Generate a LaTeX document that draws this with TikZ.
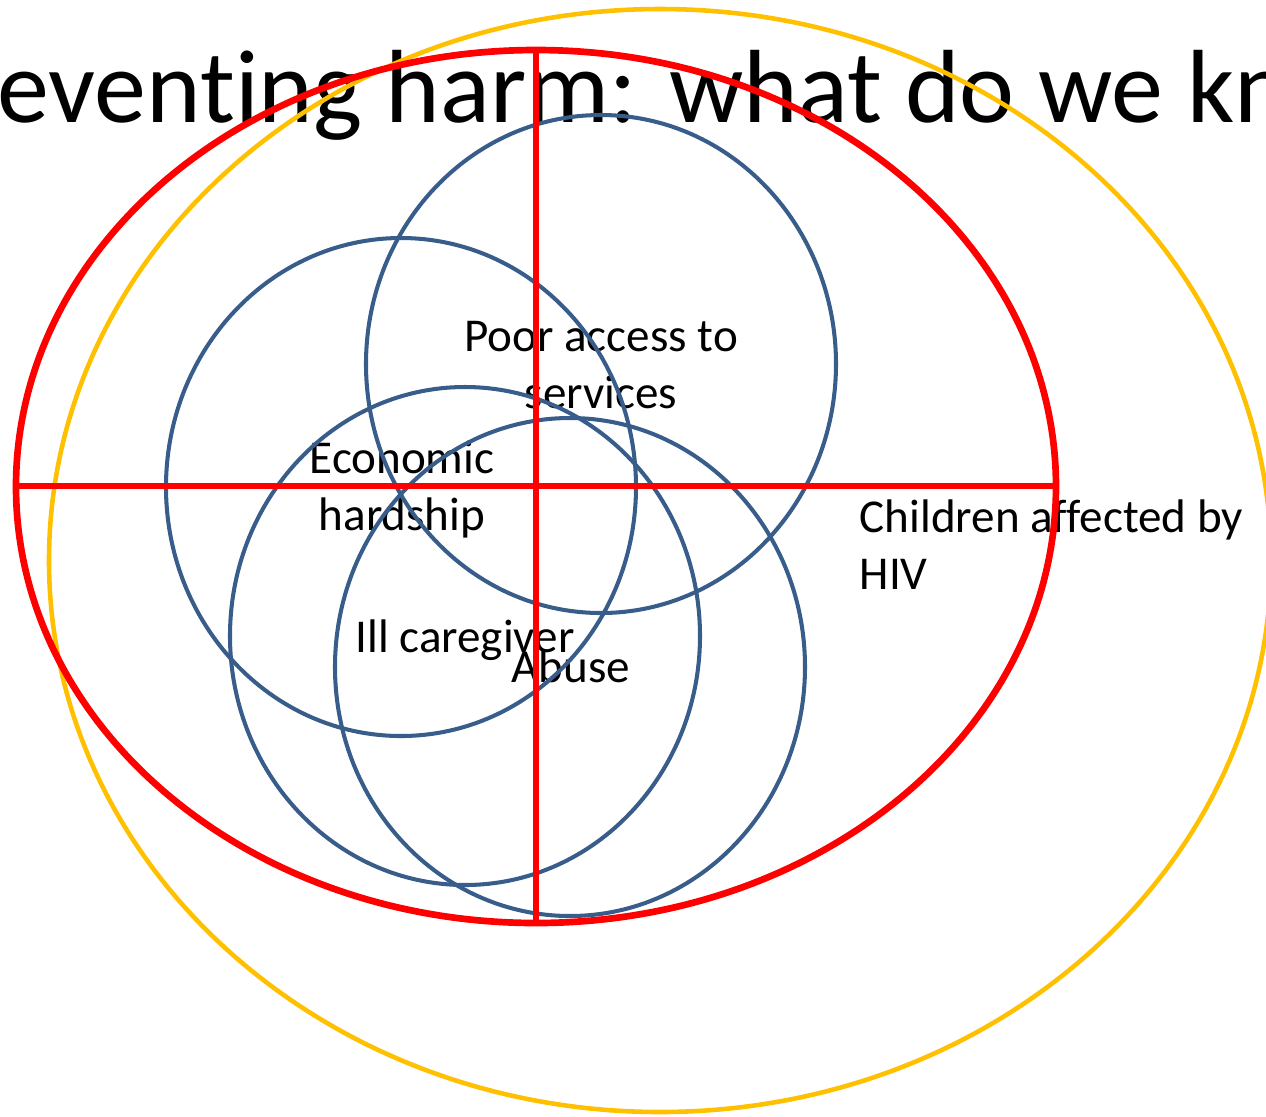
\documentclass[tikz,border=0pt]{standalone}
\usepackage{fontspec}
\setmainfont{Carlito}[Ligatures=NoCommon]
\definecolor{hivred}{HTML}{FF0000}
\definecolor{hivgold}{HTML}{FFC000}
\definecolor{hivblue}{HTML}{385D8A}
\tikzset{
  label text/.style={inner sep=0pt, font=\fontsize{13.4pt}{16.2pt}\selectfont},
  risk loop/.style={draw=hivblue, line width=1.15pt},
  red frame/.style={draw=hivred, line width=1.9pt}
}
\begin{document}
\begin{tikzpicture}
\useasboundingbox (0,0) rectangle (12.66,-11.16);
\clip (0,0) rectangle (12.66,-11.16);
\node[anchor=base west, inner sep=0pt, font=\fontsize{29.6pt}{36pt}\selectfont] (title) at (-0.92,-1.22) {Preventing harm: what do we know?};
\node[label text, align=center, anchor=base] (access) at (6.01,-4.08) {Poor access to\\services};
\node[label text, align=center, anchor=base] (economic) at (4.02,-5.30) {Economic\\hardship};
\node[label text, anchor=base] (carer) at (4.65,-6.52) {Ill caregiver};
\node[label text, anchor=base] (abuse) at (5.71,-6.82) {Abuse};
\node[label text, align=left, anchor=base west] (children) at (8.59,-5.89) {Children affected by\\HIV};
\draw[hivgold, line width=1.3pt] (6.60,-5.605) ellipse[x radius=6.11, y radius=5.515];
\foreach \cx/\cy in {6.01/-3.64, 4.01/-4.87, 4.65/-6.36, 5.70/-6.67}
\draw[risk loop] (\cx,\cy) ellipse[x radius=2.35, y radius=2.49];
\draw[red frame] (5.36,-4.865) ellipse[x radius=5.20, y radius=4.365];
\coordinate (top) at (5.36,-0.50);
\coordinate (bottom) at (5.36,-9.23);
\coordinate (left) at (0.16,-4.86);
\coordinate (right) at (10.56,-4.86);
\draw[red frame] (top) -- (bottom);
\draw[red frame] (left) -- (right);
\end{tikzpicture}
\end{document}
